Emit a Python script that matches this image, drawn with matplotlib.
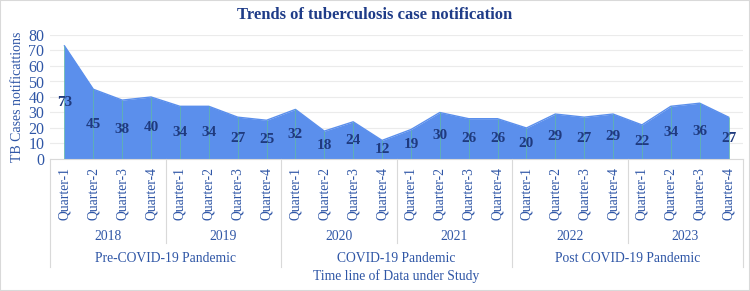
import numpy as np
import matplotlib
matplotlib.use("Agg")
import matplotlib.pyplot as plt
from matplotlib.transforms import blended_transform_factory
from matplotlib.lines import Line2D
from matplotlib.patches import Rectangle

plt.rcParams['font.family'] = ['Liberation Serif', 'DejaVu Serif']

# data
quarters = ["Quarter-1", "Quarter-2", "Quarter-3", "Quarter-4"]
years = ["2018", "2019", "2020", "2021", "2022", "2023"]
periods = ["Pre-COVID-19 Pandemic", "COVID-19 Pandemic", "Post COVID-19 Pandemic"]
cases = [73, 45, 38, 40, 34, 34, 27, 25, 32, 18, 24, 12,
         19, 30, 26, 26, 20, 29, 27, 29, 22, 34, 36, 27]

fill_col = "#5B8FEC"
drop_col = "#5FB3AE"
lab_col = "#1F3A7E"
txt_col = "#2F56A6"
sep_col = "#D9D9D9"

W, H = 750, 291
fig = plt.figure(figsize=(W / 100, H / 100), dpi=100)
ax = fig.add_axes([50 / W, 1 - 159 / H, (743 - 50) / W, (159 - 35) / H])

x = np.arange(len(cases))
ax.fill_between(x, 0, cases, color=fill_col, lw=0, zorder=2)
ax.plot(x, cases, color=fill_col, lw=1, zorder=2)
ax.vlines(x, 0, cases, color=drop_col, lw=0.6, zorder=3)

for xi, v in zip(x, cases):
    ax.text(xi, v / 2, str(v), ha="center", va="center", fontsize=11,
            fontweight="bold", color=lab_col, zorder=4)

ax.set_xlim(-0.5, len(cases) - 0.5)
ax.set_ylim(0, 80)
ax.set_yticks(range(0, 81, 10))
ax.tick_params(axis="y", length=0, labelsize=11.5, labelcolor=txt_col, pad=4)
ax.set_xticks([])
ax.grid(axis="y", color="#EBEBEB", lw=0.8, zorder=0)
for s in ax.spines.values():
    s.set_visible(False)
ax.set_ylabel("TB Cases notificattions", fontsize=10, color=txt_col, labelpad=3)

fig.suptitle("Trends of tuberculosis case notification", y=1 - 15 / H,
             va="center", fontsize=12, fontweight="bold", color="#1F3C88")

# multi-level category axis
tr = blended_transform_factory(ax.transData, fig.transFigure)

def fy(py):
    return 1 - py / H

def vline(xv, y0, y1):
    fig.add_artist(Line2D([xv, xv], [fy(y0), fy(y1)], transform=tr,
                          color=sep_col, lw=0.8, clip_on=False))

fig.add_artist(Line2D([-0.5, len(cases) - 0.5], [fy(159), fy(159)], transform=tr,
                      color=sep_col, lw=0.8, clip_on=False))

for i in range(len(cases)):
    ax.text(i, fy(167), quarters[i % 4], transform=tr, rotation=90,
            ha="center", va="top", fontsize=9.8, color=txt_col)

for j, yr in enumerate(years):
    ax.text(4 * j + 1.5, fy(236), yr, transform=tr, ha="center",
            va="center", fontsize=9.8, color=txt_col)

for k, p in enumerate(periods):
    ax.text(8 * k + 3.5, fy(258), p, transform=tr, ha="center",
            va="center", fontsize=9.8, color=txt_col)

for b in range(0, len(cases) + 1, 4):
    if b % 8 == 0:
        vline(b - 0.5, 159, 267)
    else:
        vline(b - 0.5, 159, 243)

ax.text(11.5, fy(276), "Time line of Data under Study", transform=tr,
        ha="center", va="center", fontsize=9.8, color=txt_col)

fig.add_artist(Rectangle((0, 0), 1, 1, transform=fig.transFigure, fill=False,
                         edgecolor="#D9D9D9", lw=1.5))

fig.savefig("out.png", dpi=100)
